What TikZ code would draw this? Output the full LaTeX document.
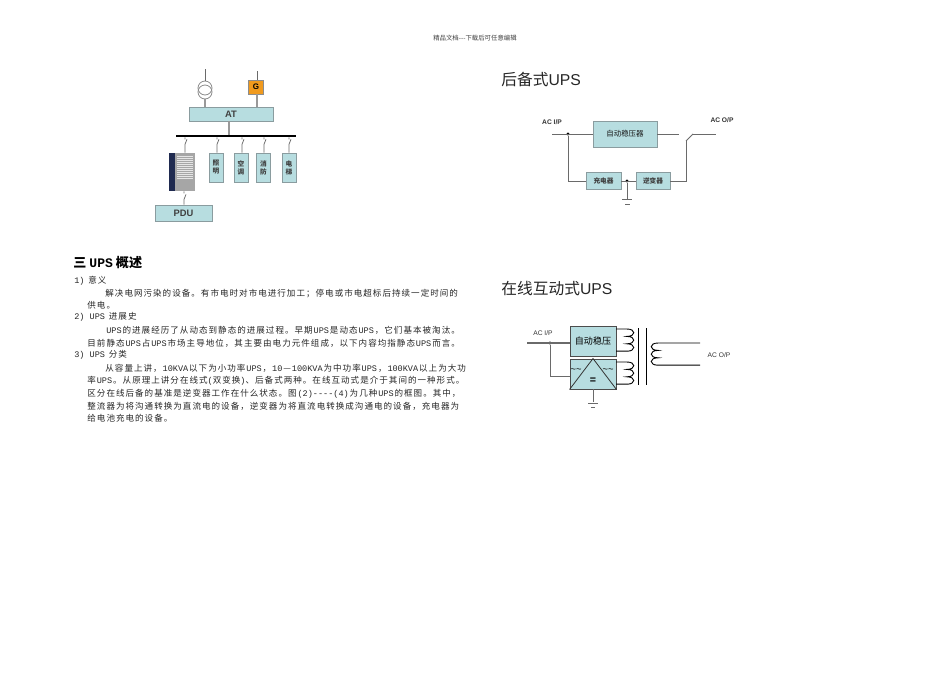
\documentclass[tikz,border=0pt]{standalone}
\usepackage{fontspec}
\setmainfont{Liberation Sans}
\newfontfamily\cjk{Noto Sans CJK SC}
\newfontfamily\cjkbody[LetterSpace=12]{Noto Sans CJK SC}
\newfontfamily\latbody{Liberation Mono}
\newcommand{\lat}[1]{\hspace{.7pt}{\latbody #1}\hspace{.7pt}}
\def\px{.75pt}
\definecolor{boxblue}{HTML}{B7DDE0}
\definecolor{boxedge}{HTML}{8A9C9F}
\definecolor{wire}{HTML}{6A6A6A}
\definecolor{genorange}{HTML}{F09A1E}
\definecolor{cabstripe}{HTML}{1F2A50}

\begin{document}
\begin{tikzpicture}[
            x = .75pt, y = -.75pt, % one unit is one pixel of the page
            semithick % line style
        ]

        \tikzset{
            bluebox/.style = {
                draw = boxedge,
                fill = boxblue,
                line width = .7pt,
                inner sep = 0pt,
                font = \cjk\fontsize{5pt}{6pt}\selectfont\bfseries,
                text = black!75
            },
            wireline/.style = {draw = wire, line width = .55pt},
            busline/.style = {draw = black!40, line width = 1pt},
            coilline/.style = {draw = black, line width = .7pt},
            jointdot/.style = {circle, fill = black, inner sep = 0pt, minimum size = 2.4pt},
            tfcircle/.style = {circle, draw = black!45, inner sep = 0pt, minimum size = 14*\px},
            portlabel/.style = {font = \fontsize{5pt}{6pt}\selectfont\bfseries, text = black!80, inner sep = 0pt},
            bodyline/.style = {anchor = west, inner sep = 0pt, font = \cjkbody\fontsize{6.4pt}{8pt}\selectfont, text = black!85},
            titleline/.style = {anchor = west, inner sep = 0pt, font = \fontsize{11.8pt}{14pt}\selectfont, text = black!85},
            bumps right/.style = {insert path = {
                to[out=0,in=0,distance=9*\px] ++(0,7.4)
                to[out=0,in=0,distance=9*\px] ++(0,7.4)
                to[out=0,in=0,distance=9*\px] ++(0,7.4)}},
            bumps left/.style = {insert path = {
                to[out=180,in=180,distance=9*\px] ++(0,7.4)
                to[out=180,in=180,distance=9*\px] ++(0,7.4)
                to[out=180,in=180,distance=9*\px] ++(0,7.4)}}
        }

        \useasboundingbox (0,0) rectangle (950,672);
        \fill[white] (0,0) rectangle (950,672);

        % page header
        \node[inner sep=0pt, text=black!75, font=\cjk\fontsize{4.8pt}{5pt}\selectfont] (header) at (475,38) {精品文档---下载后可任意编辑};

        % ---------- power distribution ----------
        \node[tfcircle] (tfa) at (205,88) {};
        \node[tfcircle] (tfb) at (205,92) {};
        \node[draw=black!45, fill=genorange, line width=.6pt, inner sep=0pt, minimum width=15*\px, minimum height=14*\px, font=\fontsize{6pt}{7pt}\selectfont\bfseries] (gen) at (256,87) {G};
        \node[bluebox, minimum width=84*\px, minimum height=14*\px, font=\fontsize{7pt}{8pt}\selectfont\bfseries] (at) at (231,114) {AT};
        \node[fill=black, minimum width=120*\px, minimum height=1.4pt, inner sep=0pt] (bus) at (236,136) {};
        \node[bluebox, minimum width=14*\px, minimum height=29*\px, align=center] (light) at (216,167.5) {照\\明};
        \node[bluebox, minimum width=14*\px, minimum height=29*\px, align=center] (aircon) at (241,167.5) {空\\调};
        \node[bluebox, minimum width=14*\px, minimum height=29*\px, align=center] (fire) at (263.5,167.5) {消\\防};
        \node[bluebox, minimum width=14*\px, minimum height=29*\px, align=center] (lift) at (289,167.5) {电\\梯};
        \node[bluebox, minimum width=57*\px, minimum height=16*\px, font=\fontsize{7pt}{8pt}\selectfont\bfseries] (pdu) at (183.5,213) {PDU};
        \node[fill=black!35, minimum width=20*\px, minimum height=38*\px, inner sep=0pt] (cabinet) at (185,172) {};
        \node[fill=cabstripe, minimum width=6*\px, minimum height=38*\px, inner sep=0pt] (cabstrip) at (172,172) {};
        \foreach \y in {156,158,...,178}
            \draw[black!10, line width=.4pt] (177,\y) -- (193,\y);

        \coordinate (tftop) at (205,69);
        \coordinate (gentop) at (257,71);
        \draw[wireline] (tftop) -- (tfa.north);
        \draw[wireline] (gentop) -- (gen.north -| gentop);
        \draw[busline] (tfb.south) -- (at.north -| tfb);
        \draw[busline] (gen.south -| gentop) -- (at.north -| gentop);
        \draw[busline] (at.south -| 229,0) -- (bus.north -| 229,0);

        % feeders with a small breaker tick
        \foreach \name/\xx in {light/217, aircon/242, fire/264, lift/289, cabinet/185}{
            \draw[wireline] (bus.south -| \xx,0) -- ++(0,2) ++(2,0) -- ++(-2,5) -- (\name.north -| \xx,0);
        }
        \draw[wireline] (cabinet.south -| 184,0) -- ++(0,2) ++(2,1) -- ++(-2,5) -- (pdu.north -| 184,0);

        % ---------- standby ups ----------
        \node[titleline] (titlea) at (501,80) {{\cjk 后备式}UPS};
        \node[bluebox, minimum width=64*\px, minimum height=26*\px, font=\cjk\fontsize{5.6pt}{7pt}\selectfont, text=black!90] (avr) at (625,134) {自动稳压器};
        \node[bluebox, minimum width=35*\px, minimum height=17*\px] (charger) at (603.5,181) {充电器};
        \node[bluebox, minimum width=34*\px, minimum height=17*\px] (inverter) at (653,181) {逆变器};
        \node[portlabel] (inlabela) at (552,122) {AC I/P};
        \node[portlabel] (outlabela) at (722,120) {AC O/P};
        \node[jointdot] (joina) at (568,134) {};
        \node[jointdot] (joinb) at (627,181) {};
        \coordinate (ina) at (552,134);
        \coordinate (avrout) at (679,134);
        \coordinate (swpole) at (686,141);
        \coordinate (swend) at (693,134);
        \coordinate (outa) at (716,134);
        \coordinate (gnda) at (627,199);

        \draw[wireline] (ina) -- (avr.west);
        \draw[wireline] (avr.east) -- (avrout);
        \draw[wireline] (swend) -- (outa);
        \draw[wireline] (swpole) -- (swend);
        \draw[wireline] (joina) |- (charger.west);
        \draw[wireline] (charger.east) -- (inverter.west);
        \draw[wireline] (inverter.east) -| (swpole);
        \draw[wireline] (joinb) -- (gnda);
        \draw[wireline] (622,199) -- (632,199);
        \draw[wireline] (625,204) -- (630,204);

        % ---------- line interactive ups ----------
        \node[titleline] (titleb) at (501,289) {{\cjk 在线互动式}UPS};
        \node[bluebox, draw=black!70, minimum width=46*\px, minimum height=30*\px, font=\cjk\fontsize{6.8pt}{8pt}\selectfont, text=black] (avrb) at (593,341) {自动稳压};
        \node[bluebox, draw=black!70, minimum width=46*\px, minimum height=30*\px] (conv) at (593,374) {};
        \draw[black!80, line width=.6pt] (conv.south west) -- (conv.north) -- (conv.south east);
        \node[inner sep=0pt, font=\fontsize{7pt}{8pt}\selectfont] (aca) at (576,371) {\~{}\~{}};
        \node[inner sep=0pt, font=\fontsize{7pt}{8pt}\selectfont] (acb) at (608,371) {\~{}\~{}};
        \node[inner sep=0pt, font=\fontsize{8pt}{9pt}\selectfont\bfseries] (dcbar) at (593,381) {=};
        \node[portlabel, font=\fontsize{5pt}{6pt}\selectfont] (inlabelb) at (543,333) {AC I/P};
        \node[portlabel, font=\fontsize{5pt}{6pt}\selectfont] (outlabelb) at (719,355) {AC O/P};
        \node[jointdot] (joinc) at (550,343) {};
        \coordinate (inb) at (527,343);
        \coordinate (gndb) at (593,402);

        \draw[wireline, line width=.9pt] (inb) -- (avrb.west |- joinc);
        \draw[wireline, line width=.7pt] (joinc) |- (conv.west |- 0,376);
        \draw[wireline] (conv.south) -- (gndb);
        \draw[wireline] (588,403) -- (598,403);
        \draw[wireline] (591,407) -- (595,407);

        % transformer windings and core
        \coordinate (coila) at (616,329);
        \coordinate (coilb) at (616,362);
        \coordinate (coilc) at (700,343);
        \draw[coilline] (coila) -- ++(11,0) [bumps right] -- ++(-11,0);
        \draw[coilline] (coilb) -- ++(11,0) [bumps right] -- ++(-11,0);
        \draw[coilline] (638,328) -- (638,385);
        \draw[coilline] (646,328) -- (646,385);
        \draw[coilline] (coilc) -- ++(-42,0) [bumps left] -- ++(42,0);

        % ---------- text ----------
        \node[anchor=west, inner sep=0pt, font=\cjk\fontsize{9.8pt}{12pt}\selectfont\bfseries] (heading) at (73,263) {三 {\latbody UPS} 概述};
        \node[bodyline] (para1) at (73,281) {\lat{1)} 意义};
        \node[bodyline] (para2) at (105,294) {解决电网污染的设备。有市电时对市电进行加工；停电或市电超标后持续一定时间的};
        \node[bodyline] (para3) at (87,305) {供电。};
        \node[bodyline] (para4) at (73,317) {\lat{2) UPS} 进展史};
        \node[bodyline] (para5) at (105,330) {\lat{UPS}的进展经历了从动态到静态的进展过程。早期\lat{UPS}是动态\lat{UPS}，它们基本被淘汰。};
        \node[bodyline] (para6) at (87,343) {目前静态\lat{UPS}占\lat{UPS}市场主导地位，其主要由电力元件组成，以下内容均指静态\lat{UPS}而言。};
        \node[bodyline] (para7) at (73,355) {\lat{3) UPS} 分类};
        \node[bodyline] (para8) at (105,368) {从容量上讲，\lat{10KVA}以下为小功率\lat{UPS}，\lat{10}—\lat{100KVA}为中功率\lat{UPS}，\lat{100KVA}以上为大功};
        \node[bodyline] (para9) at (87,381) {率\lat{UPS}。从原理上讲分在线式{\latbody(}双变换{\latbody)}、后备式两种。在线互动式是介于其间的一种形式。};
        \node[bodyline] (para10) at (87,394) {区分在线后备的基准是逆变器工作在什么状态。图\lat{(2)----(4)}为几种\lat{UPS}的框图。其中，};
        \node[bodyline] (para11) at (87,406) {整流器为将沟通转换为直流电的设备，逆变器为将直流电转换成沟通电的设备，充电器为};
        \node[bodyline] (para12) at (87,418) {给电池充电的设备。};
    \end{tikzpicture}
\end{document}
